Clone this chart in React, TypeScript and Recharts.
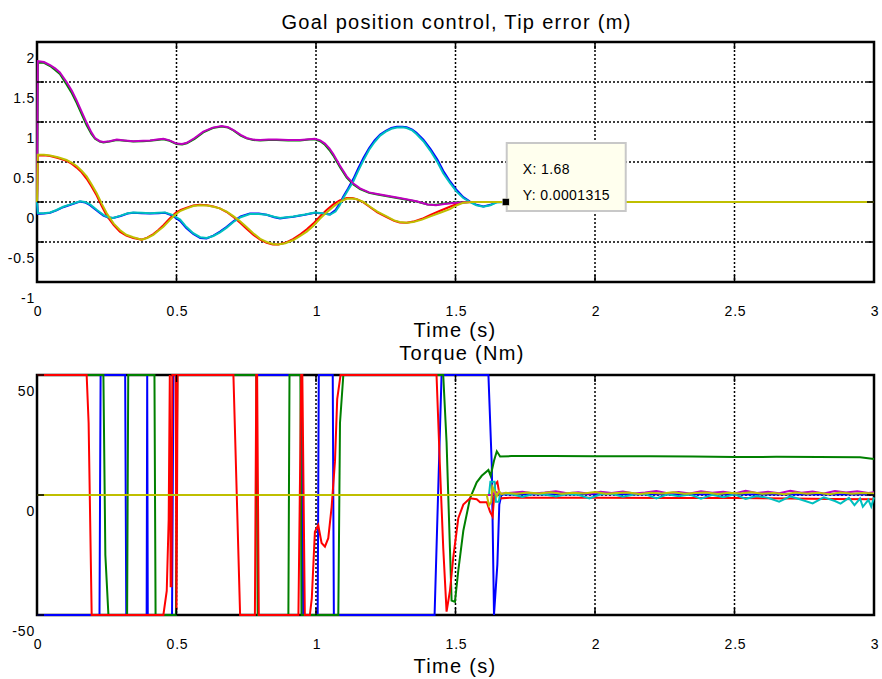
import React from 'react';
import { LineChart, Line, XAxis, YAxis, CartesianGrid, ReferenceArea, ReferenceDot } from 'recharts';

// ---------- data ----------
const timeTicks = [0, 0.5, 1, 1.5, 2, 2.5, 3];
const tipTicks = [-1, -0.5, 0, 0.5, 1, 1.5, 2];
const torqueTicks = [-50, 0, 50];

const titleTop = 'Goal position control, Tip error (m)';
const titleBottom = 'Torque (Nm)';
const xLabel = 'Time (s)';
const tipX = 1.68;
const tipY = 0.0001315;

type P = [number, number];

const tipBlue: P[] = [[0,0],[0.003,-0.15],[0.025,-0.145],[0.047,-0.135],[0.07,-0.105],[0.094,-0.065],[0.12,-0.035],[0.154,0.005],[0.172,-0.005],[0.19,-0.04],[0.215,-0.11],[0.238,-0.17],[0.255,-0.195],[0.273,-0.2],[0.3,-0.175],[0.325,-0.145],[0.345,-0.135],[0.375,-0.14],[0.405,-0.145],[0.435,-0.14],[0.459,-0.135],[0.485,-0.17],[0.513,-0.235],[0.535,-0.325],[0.56,-0.4],[0.585,-0.45],[0.608,-0.455],[0.632,-0.42],[0.656,-0.37],[0.68,-0.31],[0.704,-0.24],[0.73,-0.18],[0.763,-0.145],[0.795,-0.145],[0.823,-0.16],[0.85,-0.19],[0.871,-0.205],[0.895,-0.195],[0.919,-0.185],[0.96,-0.16],[0.996,-0.135],[1.025,-0.145],[1.05,-0.155],[1.07,-0.1],[1.085,-0.02],[1.098,0.07],[1.115,0.17],[1.134,0.29],[1.15,0.41],[1.17,0.55],[1.19,0.67],[1.21,0.77],[1.23,0.845],[1.25,0.89],[1.27,0.925],[1.29,0.94],[1.31,0.94],[1.325,0.935],[1.345,0.905],[1.36,0.865],[1.385,0.78],[1.41,0.665],[1.435,0.53],[1.456,0.39],[1.48,0.26],[1.504,0.15],[1.528,0.06],[1.552,0.005],[1.575,-0.035],[1.6,-0.055],[1.625,-0.035],[1.648,0],[1.68,0.0001],[3,0]];
const tipGreen: P[] = [[0,0],[0.003,1.74],[0.025,1.74],[0.047,1.7],[0.065,1.65],[0.082,1.6],[0.106,1.47],[0.125,1.36],[0.142,1.24],[0.16,1.1],[0.178,0.96],[0.195,0.85],[0.208,0.79],[0.225,0.755],[0.238,0.745],[0.26,0.755],[0.286,0.775],[0.315,0.765],[0.345,0.755],[0.38,0.76],[0.405,0.765],[0.43,0.775],[0.453,0.785],[0.475,0.765],[0.5,0.725],[0.52,0.72],[0.537,0.735],[0.565,0.79],[0.596,0.87],[0.63,0.925],[0.662,0.945],[0.685,0.93],[0.704,0.895],[0.73,0.83],[0.751,0.795],[0.775,0.775],[0.8,0.77],[0.83,0.775],[0.859,0.775],[0.9,0.77],[0.943,0.77],[0.975,0.78],[0.996,0.785],[1.015,0.76],[1.032,0.715],[1.048,0.65],[1.062,0.58],[1.085,0.44],[1.11,0.305],[1.134,0.22],[1.158,0.16],[1.19,0.115],[1.22,0.095],[1.25,0.075],[1.3,0.045],[1.36,0.005],[1.4,-0.03],[1.43,-0.035],[1.46,-0.02],[1.5,-0.006],[1.55,0],[3,0]];
const tipRed: P[] = [[0,0],[0.003,0.58],[0.025,0.585],[0.047,0.575],[0.075,0.55],[0.106,0.515],[0.125,0.475],[0.142,0.43],[0.16,0.37],[0.178,0.29],[0.196,0.19],[0.214,0.08],[0.232,-0.05],[0.25,-0.17],[0.275,-0.29],[0.297,-0.37],[0.32,-0.42],[0.345,-0.45],[0.375,-0.47],[0.395,-0.445],[0.417,-0.4],[0.435,-0.35],[0.453,-0.29],[0.475,-0.21],[0.495,-0.14],[0.515,-0.1],[0.537,-0.07],[0.56,-0.045],[0.584,-0.035],[0.61,-0.04],[0.632,-0.055],[0.655,-0.08],[0.68,-0.125],[0.705,-0.19],[0.728,-0.26],[0.75,-0.33],[0.775,-0.41],[0.8,-0.47],[0.823,-0.51],[0.845,-0.53],[0.865,-0.53],[0.89,-0.51],[0.919,-0.46],[0.945,-0.4],[0.967,-0.34],[0.99,-0.27],[1.014,-0.18],[1.038,-0.1],[1.062,-0.03],[1.085,0.02],[1.11,0.05],[1.13,0.05],[1.146,0.035],[1.17,-0.005],[1.194,-0.065],[1.22,-0.13],[1.253,-0.19],[1.28,-0.235],[1.3,-0.255],[1.325,-0.26],[1.349,-0.245],[1.38,-0.21],[1.41,-0.16],[1.445,-0.11],[1.48,-0.06],[1.505,-0.025],[1.527,-0.005],[1.56,0],[3,0]];
const tipCyan: P[] = [[0,0],[0.003,-0.14],[0.025,-0.14],[0.047,-0.13],[0.07,-0.1],[0.094,-0.06],[0.12,-0.03],[0.154,0.01],[0.172,0],[0.19,-0.03],[0.215,-0.1],[0.238,-0.16],[0.255,-0.19],[0.273,-0.2],[0.3,-0.17],[0.325,-0.14],[0.345,-0.13],[0.375,-0.135],[0.405,-0.14],[0.435,-0.135],[0.459,-0.13],[0.485,-0.16],[0.513,-0.22],[0.535,-0.31],[0.56,-0.39],[0.585,-0.44],[0.608,-0.45],[0.632,-0.425],[0.656,-0.38],[0.68,-0.32],[0.704,-0.25],[0.73,-0.19],[0.763,-0.15],[0.795,-0.15],[0.823,-0.16],[0.85,-0.185],[0.871,-0.2],[0.895,-0.19],[0.919,-0.18],[0.96,-0.155],[0.996,-0.13],[1.025,-0.14],[1.05,-0.16],[1.07,-0.12],[1.085,-0.04],[1.098,0.05],[1.115,0.15],[1.134,0.26],[1.15,0.38],[1.17,0.52],[1.19,0.65],[1.21,0.75],[1.23,0.83],[1.25,0.88],[1.27,0.915],[1.29,0.93],[1.31,0.935],[1.325,0.925],[1.345,0.895],[1.36,0.85],[1.385,0.76],[1.41,0.64],[1.435,0.5],[1.456,0.36],[1.48,0.24],[1.504,0.13],[1.528,0.05],[1.552,0],[1.575,-0.04],[1.6,-0.06],[1.625,-0.04],[1.648,-0.005],[1.68,0.0001],[3,0]];
const tipMagenta: P[] = [[0,0],[0.003,1.76],[0.025,1.75],[0.047,1.71],[0.065,1.67],[0.082,1.62],[0.106,1.5],[0.125,1.39],[0.142,1.27],[0.16,1.13],[0.178,0.99],[0.195,0.87],[0.208,0.8],[0.225,0.76],[0.238,0.75],[0.26,0.76],[0.286,0.78],[0.315,0.77],[0.345,0.76],[0.38,0.765],[0.405,0.77],[0.43,0.78],[0.453,0.79],[0.475,0.77],[0.5,0.73],[0.52,0.725],[0.537,0.74],[0.565,0.8],[0.596,0.88],[0.63,0.93],[0.662,0.95],[0.685,0.935],[0.704,0.9],[0.73,0.84],[0.751,0.8],[0.775,0.78],[0.8,0.775],[0.83,0.78],[0.859,0.78],[0.9,0.775],[0.943,0.775],[0.975,0.785],[0.996,0.79],[1.015,0.77],[1.032,0.73],[1.048,0.67],[1.062,0.6],[1.085,0.46],[1.11,0.32],[1.134,0.23],[1.158,0.17],[1.19,0.12],[1.22,0.1],[1.25,0.08],[1.3,0.05],[1.36,0.01],[1.4,-0.03],[1.43,-0.04],[1.46,-0.025],[1.5,-0.008],[1.55,0],[3,0]];
const tipYellow: P[] = [[0,0],[0.003,0.59],[0.025,0.59],[0.047,0.58],[0.075,0.56],[0.106,0.525],[0.125,0.49],[0.142,0.45],[0.16,0.39],[0.178,0.32],[0.196,0.22],[0.214,0.11],[0.232,-0.02],[0.25,-0.14],[0.275,-0.27],[0.297,-0.35],[0.32,-0.41],[0.345,-0.44],[0.375,-0.47],[0.395,-0.45],[0.417,-0.41],[0.435,-0.36],[0.453,-0.31],[0.475,-0.23],[0.495,-0.16],[0.515,-0.11],[0.537,-0.08],[0.56,-0.05],[0.584,-0.04],[0.61,-0.045],[0.632,-0.06],[0.655,-0.08],[0.68,-0.12],[0.705,-0.18],[0.728,-0.24],[0.75,-0.31],[0.775,-0.39],[0.8,-0.46],[0.823,-0.5],[0.845,-0.525],[0.865,-0.53],[0.89,-0.515],[0.919,-0.475],[0.945,-0.42],[0.967,-0.37],[0.99,-0.3],[1.014,-0.21],[1.038,-0.13],[1.062,-0.06],[1.085,0],[1.11,0.04],[1.13,0.045],[1.146,0.035],[1.17,0],[1.194,-0.06],[1.22,-0.12],[1.253,-0.18],[1.28,-0.23],[1.3,-0.25],[1.325,-0.26],[1.349,-0.25],[1.38,-0.22],[1.41,-0.18],[1.445,-0.135],[1.48,-0.09],[1.505,-0.04],[1.527,-0.01],[1.56,0],[3,0]];

const tqBlue: P[] = [[0,-50],[0.224,-50],[0.228,50],[0.316,50],[0.32,-50],[0.393,-50],[0.395,50],[0.397,-50],[0.484,-50],[0.489,50],[0.949,50],[0.954,-50],[1.006,-50],[1.01,50],[1.06,50],[1.064,-50],[1.425,-50],[1.45,50],[1.618,50],[1.63,12.5],[1.638,-50],[1.65,-29],[1.657,-4],[1.665,0.3],[1.7,0.2],[2,0.3],[2.5,0.2],[3,0.2]];
const tqGreen: P[] = [[0,50],[0.238,50],[0.245,-25],[0.256,-50],[0.323,-50],[0.327,50],[0.421,50],[0.425,-50],[0.498,-50],[0.503,50],[0.786,50],[0.791,-50],[0.901,-50],[0.905,50],[0.944,50],[0.948,-50],[1.08,-50],[1.086,30],[1.098,50],[1.456,50],[1.468,22],[1.48,-22],[1.486,-44],[1.498,-44.5],[1.51,-31.5],[1.528,-14.9],[1.552,-1.4],[1.576,5.3],[1.594,8],[1.618,10.4],[1.626,8],[1.638,14.3],[1.648,18.2],[1.66,16],[1.7,16.2],[1.85,16.2],[2,16.1],[2.2,16.1],[2.35,16],[2.5,15.8],[2.65,15.9],[2.8,15.8],[2.95,15.7],[3,15]];
const tqRed: P[] = [[0,50],[0.178,50],[0.185,30],[0.196,-50],[0.453,-50],[0.465,-40],[0.472,-10],[0.476,50],[0.479,-38],[0.482,-38],[0.485,50],[0.497,50],[0.5,-48],[0.504,50],[0.704,50],[0.728,-50],[0.781,-50],[0.786,50],[0.789,50],[0.795,-50],[0.937,-50],[0.947,50],[0.951,50],[0.96,-50],[0.978,-50],[0.985,-43],[0.996,-15.3],[1.008,-12.5],[1.02,-20],[1.032,-21.5],[1.044,-18],[1.056,-5],[1.068,14],[1.076,40],[1.088,50],[1.432,50],[1.444,12.5],[1.456,-22],[1.468,-48.6],[1.48,-40],[1.492,-26],[1.51,-9.7],[1.528,-4],[1.552,-1.4],[1.576,-1.8],[1.588,-3],[1.612,-3],[1.624,-7],[1.633,-9],[1.642,4.5],[1.65,5.5],[1.66,-1.4],[1.7,-1.1],[2,-1.1],[2.3,-1.2],[2.5,-1.3],[2.7,-1.5],[2.85,-1.7],[3,-1.8]];
const tqCyan: P[] = [[0,0],[1.62,0],[1.625,5.5],[1.64,5.5],[1.645,-2.8],[1.655,-2.8],[1.66,0.3],[1.7,0.4],[1.74,-0.8],[1.78,0.5],[1.82,0.2],[1.86,-0.6],[1.9,0.4],[1.94,0.1],[1.98,-1.4],[2.02,0.3],[2.06,0.5],[2.1,-0.7],[2.14,0.2],[2.18,0.4],[2.22,-1.4],[2.26,0.3],[2.3,-0.5],[2.34,0.2],[2.38,-1.5],[2.42,0.1],[2.46,-0.9],[2.5,0.3],[2.54,-1.6],[2.58,-0.4],[2.62,-1.2],[2.66,-2.8],[2.7,-0.6],[2.74,-2],[2.78,-3.5],[2.82,-1],[2.86,-2.5],[2.88,-3.6],[2.91,-1.2],[2.93,-4.2],[2.95,-1.5],[2.96,-4.9],[2.98,-2],[2.99,-4.8],[3,-1]];
const tqMagenta: P[] = [[0,0],[1.63,0],[1.645,1.2],[1.66,0.5],[1.7,0.9],[1.74,1.4],[1.78,0.6],[1.82,1],[1.86,1.6],[1.9,0.7],[1.94,1.1],[1.98,0.5],[2.02,1.3],[2.06,0.8],[2.1,1.5],[2.14,0.6],[2.18,1],[2.22,1.7],[2.26,0.7],[2.3,1.2],[2.34,0.6],[2.38,1.6],[2.42,0.9],[2.46,1.3],[2.5,0.6],[2.54,1.8],[2.58,0.8],[2.62,1.4],[2.66,0.7],[2.7,1.8],[2.74,0.9],[2.78,1.5],[2.82,0.6],[2.86,1.7],[2.9,1],[2.94,1.6],[2.98,0.8],[3,1.2]];
const tqYellow: P[] = [[0,0],[1.612,0],[1.62,-4.3],[1.628,-3],[1.632,3.5],[1.64,1.5],[1.648,-0.5],[1.656,1.6],[1.665,0.4],[1.68,0.9],[1.72,0.5],[1.76,1],[1.8,0.6],[1.84,1.1],[1.88,0.5],[1.92,0.9],[1.96,0.6],[2,1.2],[2.04,0.5],[2.08,0.8],[2.12,1],[2.16,0.4],[2.2,0.9],[2.24,0.6],[2.28,1.1],[2.32,0.5],[2.36,0.8],[2.4,1],[2.44,0.4],[2.48,0.9],[2.52,0.6],[2.56,1.1],[2.6,0.5],[2.64,0.8],[2.68,0.3],[2.72,1],[2.76,0.5],[2.8,0.9],[2.84,0.3],[2.88,1],[2.92,0.5],[2.96,0.8],[3,0.6]];

// ---------- styling / layout ----------
const FONT = '"Liberation Sans", Arial, Helvetica, sans-serif';
const C = { blue: '#0000FF', green: '#008000', red: '#FF0000', cyan: '#00BFBF', magenta: '#BF00BF', yellow: '#BFBF00' };
const PW = 837;
const PH = 240;
const TL = 7;

const toPts = (a: P[]) => a.map(([t, v]) => ({ t, v }));

const XTick = (props: any) => {
  const { x, y, payload } = props;
  return (
    <g>
      <line x1={x} y1={y} x2={x} y2={y - TL} stroke="#000" strokeWidth={1.5} />
      <line x1={x} y1={y - PH} x2={x} y2={y - PH + TL} stroke="#000" strokeWidth={1.5} />
      <text x={x + 1} y={y + 33.5} textAnchor="middle" fontSize={14} fontFamily={FONT} letterSpacing={0.8} fill="#000">
        {payload.value}
      </text>
    </g>
  );
};

const YTick = (props: any) => {
  const { x, y, payload } = props;
  return (
    <g>
      <line x1={x} y1={y} x2={x + TL} y2={y} stroke="#000" strokeWidth={1.5} />
      <line x1={x + PW} y1={y} x2={x + PW - TL} y2={y} stroke="#000" strokeWidth={1.5} />
      <text x={x - 2} y={y + 21} textAnchor="end" fontSize={14} fontFamily={FONT} letterSpacing={0.8} fill="#000">
        {payload.value}
      </text>
    </g>
  );
};

const DataTip = (props: any) => {
  const { cx, cy } = props;
  return (
    <g>
      <rect x={cx + 1} y={cy - 59} width={119} height={68} fill="#FFFFEE" stroke="#C8C8C8" strokeWidth={2} />
      <rect x={cx - 3.5} y={cy - 3.5} width={7} height={7} fill="#000" stroke="#FFFFEE" strokeWidth={0.5} />
      <text x={cx + 17} y={cy - 28} fontSize={14} fontFamily={FONT} letterSpacing={0.4} fill="#000">{`X: ${tipX}`}</text>
      <text x={cx + 17} y={cy - 2} fontSize={14} fontFamily={FONT} letterSpacing={0.4} fill="#000">{`Y: ${tipY}`}</text>
    </g>
  );
};

const seriesTop = [
  { d: tipBlue, c: C.blue },
  { d: tipGreen, c: C.green },
  { d: tipRed, c: C.red },
  { d: tipCyan, c: C.cyan },
  { d: tipMagenta, c: C.magenta },
  { d: tipYellow, c: C.yellow },
];
const seriesBottom = [
  { d: tqBlue, c: C.blue },
  { d: tqGreen, c: C.green },
  { d: tqRed, c: C.red },
  { d: tqCyan, c: C.cyan },
  { d: tqMagenta, c: C.magenta },
  { d: tqYellow, c: C.yellow },
];

const gridProps = { stroke: '#000', strokeDasharray: '2 2', strokeWidth: 1.5 };

export default function App() {
  return (
    <div style={{ position: 'absolute', left: 0, top: 0, width: 882, height: 679, background: '#fff', overflow: 'hidden' }}>
      <div style={{ position: 'absolute', left: 0, top: 0 }}>
        <LineChart width={882} height={330} margin={{ top: 42, right: 8, bottom: 0, left: 0 }}>
          <CartesianGrid {...gridProps} />
          <ReferenceArea x1={0} x2={3} y1={-1} y2={2} fill="none" fillOpacity={0} stroke="#000" strokeWidth={2.5} zIndex={-50} />
          <XAxis type="number" dataKey="t" domain={[0, 3]} ticks={timeTicks} height={48} tickSize={0} tickMargin={0} tickLine={false} axisLine={false} tick={<XTick />} interval={0} />
          <YAxis type="number" domain={[-1, 2]} ticks={tipTicks} width={37} tickSize={0} tickMargin={0} tickLine={false} axisLine={false} tick={<YTick />} interval={0} />
          {seriesTop.map((s, i) => (
            <Line key={i} data={toPts(s.d)} dataKey="v" type="linear" stroke={s.c} strokeWidth={2} dot={false} activeDot={false} isAnimationActive={false} />
          ))}
          <ReferenceDot x={tipX} y={tipY} r={4} shape={DataTip} ifOverflow="visible" zIndex={2000} />
        </LineChart>
      </div>
      <div style={{ position: 'absolute', left: 0, top: 330 }}>
        <LineChart width={882} height={349} margin={{ top: 45, right: 8, bottom: 0, left: 0 }}>
          <CartesianGrid {...gridProps} />
          <ReferenceArea x1={0} x2={3} y1={-50} y2={50} fill="none" fillOpacity={0} stroke="#000" strokeWidth={2.5} zIndex={-50} />
          <XAxis type="number" dataKey="t" domain={[0, 3]} ticks={timeTicks} height={64} tickSize={0} tickMargin={0} tickLine={false} axisLine={false} tick={<XTick />} interval={0} />
          <YAxis type="number" domain={[-50, 50]} ticks={torqueTicks} width={37} tickSize={0} tickMargin={0} tickLine={false} axisLine={false} tick={<YTick />} interval={0} />
          {seriesBottom.map((s, i) => (
            <Line key={i} data={toPts(s.d)} dataKey="v" type="linear" stroke={s.c} strokeWidth={2} dot={false} activeDot={false} isAnimationActive={false} />
          ))}
        </LineChart>
      </div>
      <svg width={882} height={679} style={{ position: 'absolute', left: 0, top: 0, pointerEvents: 'none' }}>
        <text x={456.5} y={28.5} textAnchor="middle" fontSize={20} fontFamily={FONT} letterSpacing={1.3} fill="#000">{titleTop}</text>
        <text x={455} y={336.5} textAnchor="middle" fontSize={20} fontFamily={FONT} letterSpacing={1.3} fill="#000">{xLabel}</text>
        <text x={462} y={360} textAnchor="middle" fontSize={20} fontFamily={FONT} letterSpacing={1.3} fill="#000">{titleBottom}</text>
        <text x={455} y={672.5} textAnchor="middle" fontSize={20} fontFamily={FONT} letterSpacing={1.3} fill="#000">{xLabel}</text>
      </svg>
    </div>
  );
}
